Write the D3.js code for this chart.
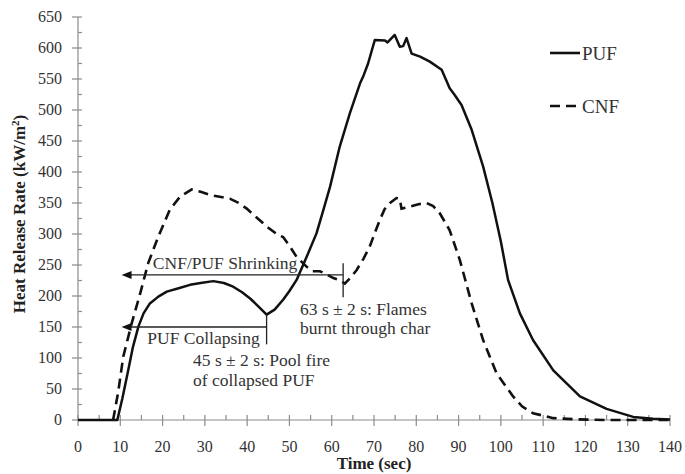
<!DOCTYPE html>
<html lang="en">
<head>
	<meta charset="UTF-8">
	<title>Heat Release Rate</title>
	<style>
		body{margin:0;background:#fff;}
		text{font-family:"Liberation Serif","Times New Roman",serif;}
	</style>
</head>
<body>
	<svg></svg>
	<script src="https://d3js.org/d3.v7.min.js"></script>
	<script>

		// PUF curve (time s, HRR kW/m2)
		var pufTime = [0,3,9.3,10.5,11.9,13,14.3,15.5,17,19,21,24,26.5,29,32,34.5,36.7,38.8,40.7,42.7,44.6,46.5,48.5,50,51.7,54,56.4,58,59.6,61.9,64.3,66.7,67.5,68.6,70.2,72.6,73.2,74.9,76.1,76.9,77.7,78.9,80.9,82.4,83.2,86,87.9,89,90.7,93.1,95.8,98,100,101.7,104.5,107.6,112.4,118.7,125,131.3,136,140];
		var pufHrr  = [0,0,0,35,81,118,151,172,188,199,207,213,218,221,224,221,215,206,196,183,170,178,194,208,226,262,301,338,376,441,495,543,555,575,613,612,609,621,602,603,616,591,586,581,578,565,535,525,508,468,409,350,288,226,172,129,80,38,18,5,2,1];

		// CNF curve
		var cnfTime = [8.3,9.5,10.7,12.7,14.7,16.6,19,21.7,24.1,26.9,29,31.2,33.5,35.9,38,39.9,42.5,45,47,48.5,50.1,51.7,54.1,55.5,57.2,58.5,60.4,62,63.1,64.5,65.9,67.5,69,70.2,71.4,72.5,73.8,75.3,76.1,76.5,78.5,80.5,82.4,84,85.6,87.9,90.3,93.1,95.8,99,102.9,105,107.6,112.4,118,125,140];
		var cnfHrr  = [0,45,102,156,204,253,296,339,360,372,368,363,360,357,350,341,325,310,300,295,280,263,247,240,240,236,229,225,220,230,242,260,280,302,323,340,350,358,357,341,344,348,350,345,333,306,258,188,129,75,38,22,11,3,1,0,0];

		var xTicks = d3.range(0,141,10);
		var yTicks = d3.range(0,651,50);

		// annotation arrows: [from t, to t, at hrr, end tick top, end tick bottom]
		var arrows = [
			[10.3,62.7,234,253,198],
			[10.3,44.6,150,170,122]
		];
		// annotation labels: [text, t, hrr]
		var notes = [
			["CNF/PUF Shrinking",17.7,243],
			["PUF Collapsing",16.4,122],
			["45 s \u00b1 2 s: Pool fire",27.2,87],
			["of collapsed PUF",27.2,55],
			["63 s \u00b1 2 s: Flames",52.5,169],
			["burnt through char",52.5,138]
		];

		var W = 685, H = 474;
		var svg = d3.select("svg").attr("width",W).attr("height",H);

		var x = d3.scaleLinear().domain([0,140]).range([78,670]);
		var y = d3.scaleLinear().domain([0,650]).range([420,17]);

		var axisColor = "#8c8c8c";
		var g = svg.append("g");

		// y axis
		g.append("line").attr("x1",x(0)).attr("x2",x(0)).attr("y1",y(0)).attr("y2",y(650))
			.attr("stroke",axisColor).attr("stroke-width",1.2);
		g.selectAll(".ymaj").data(yTicks).enter().append("line")
			.attr("x1",x(0)-6).attr("x2",x(0)+4)
			.attr("y1",function(d){return y(d);}).attr("y2",function(d){return y(d);})
			.attr("stroke",axisColor).attr("stroke-width",1.2);
		g.selectAll(".ymin").data(d3.range(25,650,50)).enter().append("line")
			.attr("x1",x(0)).attr("x2",x(0)+4)
			.attr("y1",function(d){return y(d);}).attr("y2",function(d){return y(d);})
			.attr("stroke",axisColor).attr("stroke-width",1.2);
		g.selectAll(".ylab").data(yTicks).enter().append("text")
			.attr("x",62).attr("y",function(d){return y(d);}).attr("dy","0.34em")
			.attr("text-anchor","end").attr("font-size","16px").attr("fill","#333")
			.text(function(d){return d;});

		// x axis
		g.append("line").attr("x1",x(0)).attr("x2",x(140)).attr("y1",y(0)).attr("y2",y(0))
			.attr("stroke",axisColor).attr("stroke-width",1.2);
		g.selectAll(".xmaj").data(xTicks).enter().append("line")
			.attr("x1",function(d){return x(d);}).attr("x2",function(d){return x(d);})
			.attr("y1",y(0)-5).attr("y2",y(0)+6)
			.attr("stroke",axisColor).attr("stroke-width",1.2);
		g.selectAll(".xmin").data(d3.range(5,140,10)).enter().append("line")
			.attr("x1",function(d){return x(d);}).attr("x2",function(d){return x(d);})
			.attr("y1",y(0)-5).attr("y2",y(0))
			.attr("stroke",axisColor).attr("stroke-width",1.2);
		g.selectAll(".xlab").data(xTicks).enter().append("text")
			.attr("x",function(d){return x(d);}).attr("y",452)
			.attr("text-anchor","middle").attr("font-size","16px").attr("fill","#333")
			.text(function(d){return d;});

		// axis titles
		g.append("text").attr("x",374).attr("y",469).attr("text-anchor","middle")
			.attr("font-size","17px").attr("font-weight","bold").attr("fill","#222")
			.text("Time (sec)");
		var yt = g.append("text").attr("transform","translate(25,214) rotate(-90)")
			.attr("text-anchor","middle").attr("font-size","17px").attr("font-weight","bold").attr("fill","#222");
		yt.append("tspan").text("Heat Release Rate (kW/m");
		yt.append("tspan").attr("font-size","11px").attr("dy","-6").text("2");
		yt.append("tspan").attr("dy","6").text(")");

		// curves
		var line = d3.line()
			.x(function(d){return x(d[0]);})
			.y(function(d){return y(d[1]);});

		g.append("path").datum(d3.zip(cnfTime,cnfHrr))
			.attr("d",line).attr("fill","none").attr("stroke","#111")
			.attr("stroke-width",2.6).attr("stroke-dasharray","10,6");
		g.append("path").datum(d3.zip(pufTime,pufHrr))
			.attr("d",line).attr("fill","none").attr("stroke","#111")
			.attr("stroke-width",2.5).attr("stroke-linejoin","round");

		// annotation arrows
		arrows.forEach(function(a){
			var yy = y(a[2]);
			g.append("line").attr("x1",x(a[0])+6).attr("x2",x(a[1])).attr("y1",yy).attr("y2",yy)
				.attr("stroke","#222").attr("stroke-width",1.3);
			g.append("line").attr("x1",x(a[1])).attr("x2",x(a[1])).attr("y1",y(a[3])).attr("y2",y(a[4]))
				.attr("stroke","#222").attr("stroke-width",1.3);
			g.append("path")
				.attr("d","M"+x(a[0])+","+yy+"L"+(x(a[0])+10)+","+(yy-4)+"L"+(x(a[0])+10)+","+(yy+4)+"Z")
				.attr("fill","#111");
		});

		g.selectAll(".note").data(notes).enter().append("text")
			.attr("x",function(d){return x(d[1]);}).attr("y",function(d){return y(d[2]);})
			.attr("font-size","17.5px").attr("fill","#333")
			.text(function(d){return d[0];});

		// legend
		var legend = [["PUF",null,53],["CNF","10,6",106]];
		legend.forEach(function(l){
			g.append("line").attr("x1",550).attr("x2",580).attr("y1",l[2]).attr("y2",l[2])
				.attr("stroke","#111").attr("stroke-width",2.6)
				.attr("stroke-dasharray",l[1]);
			g.append("text").attr("x",582).attr("y",l[2]).attr("dy","0.36em")
				.attr("font-size","19px").attr("fill","#333").text(l[0]);
		});

	</script>
</body>
</html>
